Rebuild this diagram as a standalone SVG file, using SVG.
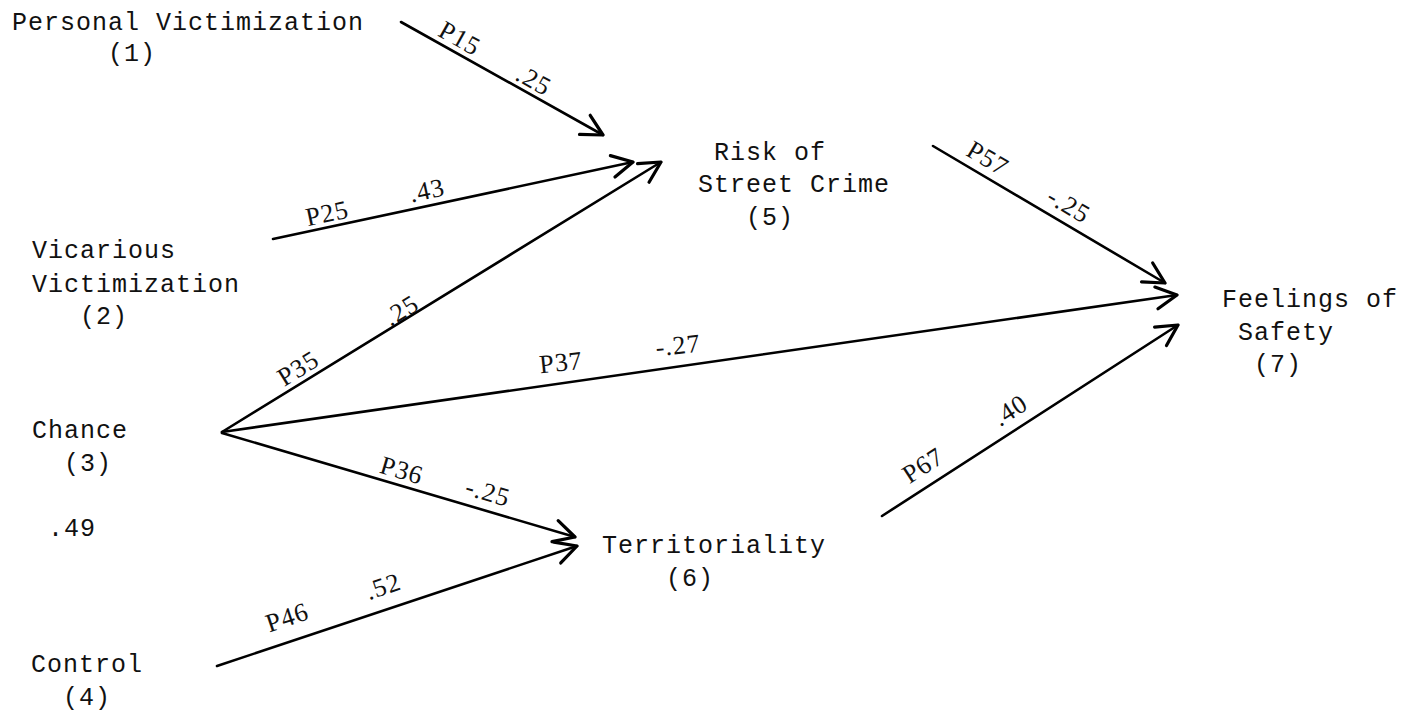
<svg xmlns="http://www.w3.org/2000/svg" width="1406" height="715" viewBox="0 0 1406 715">
<defs>
<marker id="arr" markerUnits="userSpaceOnUse" markerWidth="30" markerHeight="30" viewBox="-22 -12 26 24" refX="0" refY="0" orient="auto" overflow="visible">
<path d="M-18,-9.5 L0,0 L-18,9.5" fill="none" stroke="#000" stroke-width="2.8" stroke-linecap="round" stroke-linejoin="round"/>
</marker>
<style>
.n{font-family:"Liberation Mono","DejaVu Sans Mono",monospace;font-size:25px;letter-spacing:1px;fill:#111}
.l{font-family:"Liberation Serif","DejaVu Serif",serif;font-size:26px;letter-spacing:1px;fill:#111;text-anchor:middle}
.e{fill:none;stroke:#000;stroke-width:2.6;stroke-linecap:round;marker-end:url(#arr)}
</style>
</defs>
<rect width="1406" height="715" fill="#fff"/>
<g id="n1"><text class="n" x="12" y="30">Personal Victimization</text><text class="n" x="108" y="61">(1)</text></g>
<g id="n2"><text class="n" x="32" y="258">Vicarious</text><text class="n" x="32" y="292">Victimization</text><text class="n" x="80" y="324">(2)</text></g>
<g id="n3"><text class="n" x="32" y="438">Chance</text><text class="n" x="64" y="471">(3)</text></g>
<g id="v49"><text class="n" x="48" y="536">.49</text></g>
<g id="n4"><text class="n" x="31" y="672">Control</text><text class="n" x="63" y="705">(4)</text></g>
<g id="n5"><text class="n" x="714" y="160">Risk of</text><text class="n" x="698" y="192">Street Crime</text><text class="n" x="746" y="225">(5)</text></g>
<g id="n6"><text class="n" x="602" y="553">Territoriality</text><text class="n" x="666" y="586">(6)</text></g>
<g id="n7"><text class="n" x="1222" y="307">Feelings of</text><text class="n" x="1238" y="340">Safety</text><text class="n" x="1254" y="372">(7)</text></g>
<g id="connectors">
<line class="e" x1="401" y1="22" x2="603" y2="135"/>
<line class="e" x1="273" y1="239" x2="633" y2="162"/>
<line class="e" x1="222" y1="432" x2="661" y2="162"/>
<line class="e" x1="222" y1="432" x2="1177" y2="295"/>
<line class="e" x1="222" y1="433" x2="575" y2="537"/>
<line class="e" x1="217" y1="666" x2="577" y2="546"/>
<line class="e" x1="933" y1="146" x2="1165" y2="283"/>
<line class="e" x1="882" y1="516" x2="1178" y2="325"/>
</g>
<g id="labels">
<text class="l" transform="translate(460 38) rotate(29.2)" dy="9">P15</text>
<text class="l" transform="translate(534 80) rotate(29.2)" dy="9">.25</text>
<text class="l" transform="translate(327 213) rotate(-12.1)" dy="9">P25</text>
<text class="l" transform="translate(427 190) rotate(-12.1)" dy="9">.43</text>
<text class="l" transform="translate(298 368) rotate(-31.6)" dy="9">P35</text>
<text class="l" transform="translate(401 310) rotate(-31.6)" dy="9">.25</text>
<text class="l" transform="translate(561 362) rotate(-6)" dy="9">P37</text>
<text class="l" transform="translate(678 345) rotate(-6)" dy="9">-.27</text>
<text class="l" transform="translate(402 470) rotate(16.4)" dy="9">P36</text>
<text class="l" transform="translate(488 492) rotate(16.4)" dy="9">-.25</text>
<text class="l" transform="translate(287 617) rotate(-18.4)" dy="9">P46</text>
<text class="l" transform="translate(383 586) rotate(-18.4)" dy="9">.52</text>
<text class="l" transform="translate(988 158) rotate(30.6)" dy="9">P57</text>
<text class="l" transform="translate(1069 205) rotate(30.6)" dy="9">-.25</text>
<text class="l" transform="translate(923 465) rotate(-32.8)" dy="9">P67</text>
<text class="l" transform="translate(1010 410) rotate(-32.8)" dy="9">.40</text>
</g>
</svg>
